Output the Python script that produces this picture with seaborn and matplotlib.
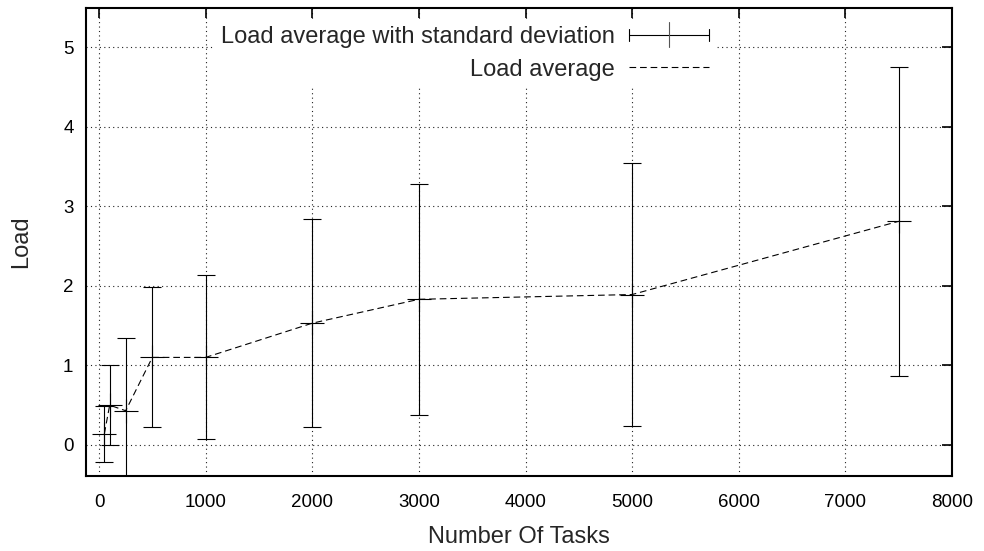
import matplotlib
matplotlib.use('Agg')
import matplotlib.pyplot as plt
import seaborn as sns
import numpy as np
import pandas as pd
from matplotlib.legend_handler import HandlerBase
from matplotlib.lines import Line2D

# ---- data ----
tasks = [50, 100, 250, 500, 1000, 2000, 3000, 5000, 7500]
load_avg = [0.14, 0.50, 0.43, 1.10, 1.10, 1.53, 1.83, 1.89, 2.81]
load_std = [0.35, 0.50, 0.92, 0.88, 1.03, 1.31, 1.45, 1.65, 1.94]
x_ticks = [0, 1000, 2000, 3000, 4000, 5000, 6000, 7000, 8000]
y_ticks = [0, 1, 2, 3, 4, 5]
label_err = "Load average with standard deviation"
label_avg = "Load average"

df = pd.DataFrame({"tasks": tasks, "avg": load_avg, "std": load_std})

sns.set_theme(style="white")
plt.rcParams['font.family'] = ['Liberation Sans', 'DejaVu Sans']

W, H = 984, 551
fig = plt.figure(figsize=(W / 100, H / 100), dpi=100)
ax = fig.add_axes([86 / W, 1 - 476 / H, (952 - 86) / W, (476 - 8) / H])

# grid
ax.set_axisbelow(True)
ax.grid(True, color='#222222', linestyle=(0, (1, 3)), linewidth=0.8)

# error bars (gnuplot style)
ax.errorbar(df["tasks"], df["avg"], yerr=df["std"], fmt='none', ecolor='black',
            elinewidth=0.8, capsize=6.5, capthick=0.8, zorder=3)
ax.plot(df["tasks"], df["avg"], linestyle='none', marker='+', markersize=17,
        markeredgewidth=0.8, color='black', zorder=3)

# dashed mean line via seaborn
sns.lineplot(data=df, x="tasks", y="avg", ax=ax, color='black', linewidth=0.8,
             linestyle=(0, (6, 3.5)), zorder=3, legend=False)

ax.set_xlim(-122, 8000)
ax.set_ylim(-0.39, 5.49)
ax.set_xticks(x_ticks)
ax.set_yticks(y_ticks)
ax.tick_params(direction='in', length=7, width=1.2, top=True, right=True,
               labelsize=13.5, colors='black')
ax.tick_params(axis='x', pad=13)
ax.tick_params(axis='y', pad=9)
for s in ax.spines.values():
    s.set_linewidth(1.5)
    s.set_color('black')
    s.set_visible(True)

ax.set_xlabel("Number Of Tasks", fontsize=17, labelpad=11)
ax.set_ylabel("Load", fontsize=17, labelpad=22)


class ErrHandler(HandlerBase):
    def create_artists(self, legend, orig_handle, xdescent, ydescent, width,
                       height, fontsize, trans):
        y = height / 2 - ydescent
        x0 = -xdescent
        x1 = -xdescent + width
        xm = (x0 + x1) / 2
        c = 4.5
        m = 9
        arts = [
            Line2D([x0, x1], [y, y], color='black', lw=0.8),
            Line2D([x0, x0], [y - c, y + c], color='black', lw=0.8),
            Line2D([x1, x1], [y - c, y + c], color='black', lw=0.8),
            Line2D([xm, xm], [y - m, y + m], color='#555555', lw=0.8),
        ]
        for a in arts:
            a.set_transform(trans)
        return arts


err_proxy = Line2D([], [], color='black')
avg_proxy = Line2D([], [], color='black', lw=0.8, linestyle=(0, (6, 3.5)))
leg = ax.legend([err_proxy, avg_proxy], [label_err, label_avg],
                handler_map={err_proxy: ErrHandler()},
                loc='upper right', bbox_to_anchor=(716 / W, 1 - 19 / H),
                bbox_transform=fig.transFigure, borderaxespad=0,
                markerfirst=False, alignment='right', frameon=True,
                framealpha=1, facecolor='white', edgecolor='white',
                fancybox=False, handlelength=3.4, handletextpad=0.6,
                labelspacing=0.45, borderpad=0.3, fontsize=17)
leg.get_frame().set_linewidth(0)

fig.savefig("out.png", dpi=100)
